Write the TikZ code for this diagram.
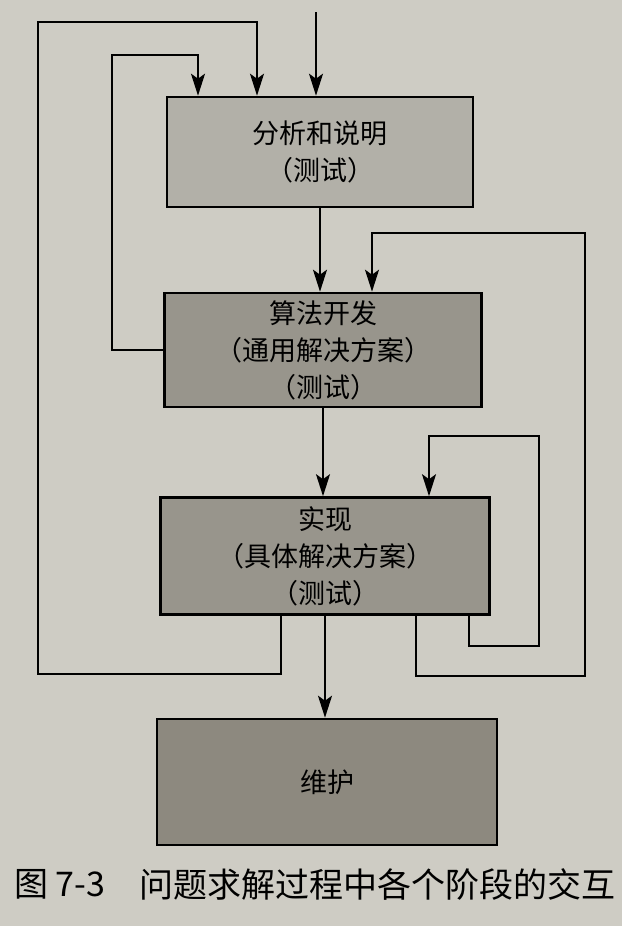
\documentclass[tikz,border=0pt]{standalone}
\usepackage{fontspec}
\newfontfamily\cjk{Noto Sans CJK SC}
\usepackage{tikz}
\usetikzlibrary{arrows.meta,positioning,calc}
\usepackage{xcolor}
\definecolor{paper}{RGB}{206,204,196}
\definecolor{lightstage}{RGB}{178,176,168}
\definecolor{midstage}{RGB}{152,149,140}
\definecolor{darkstage}{RGB}{141,137,127}

\begin{document}
\begin{tikzpicture}[x=1pt, y=-1pt,
  stagebox/.style={draw, line width=2.6pt, inner sep=0pt, align=center,
    font=\cjk\fontsize{27}{37}\selectfont},
  flow/.style={line width=2pt, -{Stealth[length=22pt, width=14pt, inset=5pt]}},
  captext/.style={font=\cjk\fontsize{34}{36}\selectfont, inner sep=0pt}]
  \useasboundingbox[fill=paper] (0,0) rectangle (622,926);

  % the four stages
  \node[stagebox, fill=lightstage, minimum width=306pt, minimum height=110pt] (analysis) at (320,152) {分析和说明\\（测试）};
  \node[stagebox, fill=midstage, minimum width=317pt, minimum height=114pt] (algo) at (323,350) {算法开发\\（通用解决方案）\\（测试）};
  \node[stagebox, fill=midstage, minimum width=329pt, minimum height=117pt] (impl) at (325,556) {实现\\（具体解决方案）\\（测试）};
  \node[stagebox, fill=darkstage, minimum width=340pt, minimum height=126pt] (maint) at (327,782) {维护};

  \node[captext, anchor=west] (fignum) at (14,884) {图 7-3};
  \node[captext, anchor=west] (figtitle) at (139,884) {问题求解过程中各个阶段的交互};

  % main flow
  \coordinate (start) at (316,12);
  \draw[flow] (start) -- (start |- analysis.north);
  \draw[flow] (analysis.south) -- (analysis.south |- algo.north);
  \draw[flow] (algo.south) -- (algo.south |- impl.north);
  \draw[flow] (impl.south) -- (impl.south |- maint.north);

  % feedback loops
  \draw[flow] (algo.west) -| (112,55) -| ([xshift=-122pt]analysis.north);
  \draw[flow] ([xshift=-44pt]impl.south) |- (38,674) |- (257,22) -- ([xshift=-63pt]analysis.north);
  \draw[flow] ([xshift=91pt]impl.south) |- (585,676) |- (372,233) -- ([xshift=49pt]algo.north);
  \draw[flow] ([xshift=144pt]impl.south) |- (539,646) |- (429,436) -- ([xshift=104pt]impl.north);
\end{tikzpicture}
\end{document}
